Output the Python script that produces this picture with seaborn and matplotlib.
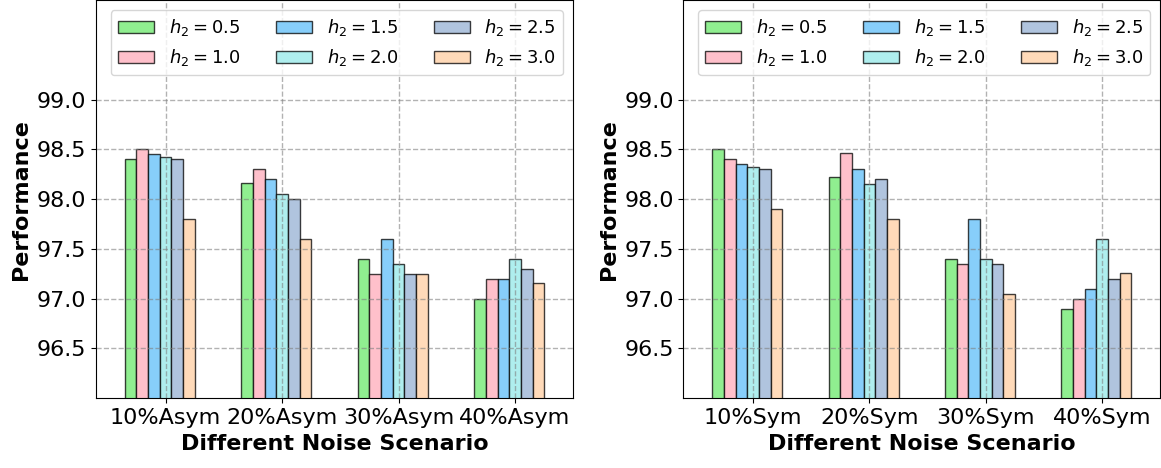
import numpy as np
import pandas as pd
import matplotlib
matplotlib.use("Agg")
import matplotlib.pyplot as plt
import seaborn as sns

# Data
h2_values = ["0.5", "1.0", "1.5", "2.0", "2.5", "3.0"]
asym_labels = ["10%Asym", "20%Asym", "30%Asym", "40%Asym"]
sym_labels = ["10%Sym", "20%Sym", "30%Sym", "40%Sym"]

asym_scores = {
    "0.5": [98.40, 98.16, 97.40, 97.00],
    "1.0": [98.50, 98.30, 97.25, 97.20],
    "1.5": [98.45, 98.20, 97.60, 97.20],
    "2.0": [98.42, 98.05, 97.35, 97.40],
    "2.5": [98.40, 98.00, 97.25, 97.30],
    "3.0": [97.80, 97.60, 97.25, 97.16],
}
sym_scores = {
    "0.5": [98.50, 98.22, 97.40, 96.90],
    "1.0": [98.40, 98.46, 97.35, 97.00],
    "1.5": [98.35, 98.30, 97.80, 97.10],
    "2.0": [98.32, 98.15, 97.40, 97.60],
    "2.5": [98.30, 98.20, 97.35, 97.20],
    "3.0": [97.90, 97.80, 97.05, 97.26],
}

colors = ["lightgreen", "pink", "lightskyblue", "paleturquoise",
          "lightsteelblue", "peachpuff"]


def to_long(scores, labels):
    rows = []
    for h in h2_values:
        for lab, v in zip(labels, scores[h]):
            rows.append({"scenario": lab, "h2": f"$h_2 = {h}$", "value": v})
    return pd.DataFrame(rows)


# grid lines drawn over the bars, like the original
plt.rcParams["axes.axisbelow"] = "line"

fig = plt.figure(figsize=(11.61, 4.68), dpi=100)
ax1 = fig.add_axes([0.0824, 0.149, 0.4114, 0.851])
ax2 = fig.add_axes([0.5886, 0.149, 0.4108, 0.851])

for ax, scores, labels in [(ax1, asym_scores, asym_labels),
                           (ax2, sym_scores, sym_labels)]:
    df = to_long(scores, labels)
    sns.barplot(data=df, x="scenario", y="value", hue="h2",
                palette=colors, saturation=1, width=0.6, edgecolor="black",
                linewidth=1, errorbar=None, ax=ax)
    for p in ax.patches:
        p.set_edgecolor((0, 0, 0, 0.75))
    ax.set_ylim(96, 100)
    ax.set_yticks([96.5, 97.0, 97.5, 98.0, 98.5, 99.0])
    ax.set_xticks(np.arange(len(labels)) + 0.05, labels)
    ax.set_xlim(-0.55, 3.55)
    ax.grid(True, linestyle="--", color="gray", alpha=0.6, linewidth=1)
    ax.tick_params(labelsize=16)
    ax.set_xlabel("Different Noise Scenario", fontsize=16, fontweight="bold")
    ax.set_ylabel("Performance", fontsize=16, fontweight="bold")
    handles, labs = ax.get_legend_handles_labels()
    ax.legend(handles, labs, ncol=3, fontsize=13, loc="upper center",
              bbox_to_anchor=(0.505, 0.975), borderaxespad=0)

fig.savefig("out.png", dpi=100)
